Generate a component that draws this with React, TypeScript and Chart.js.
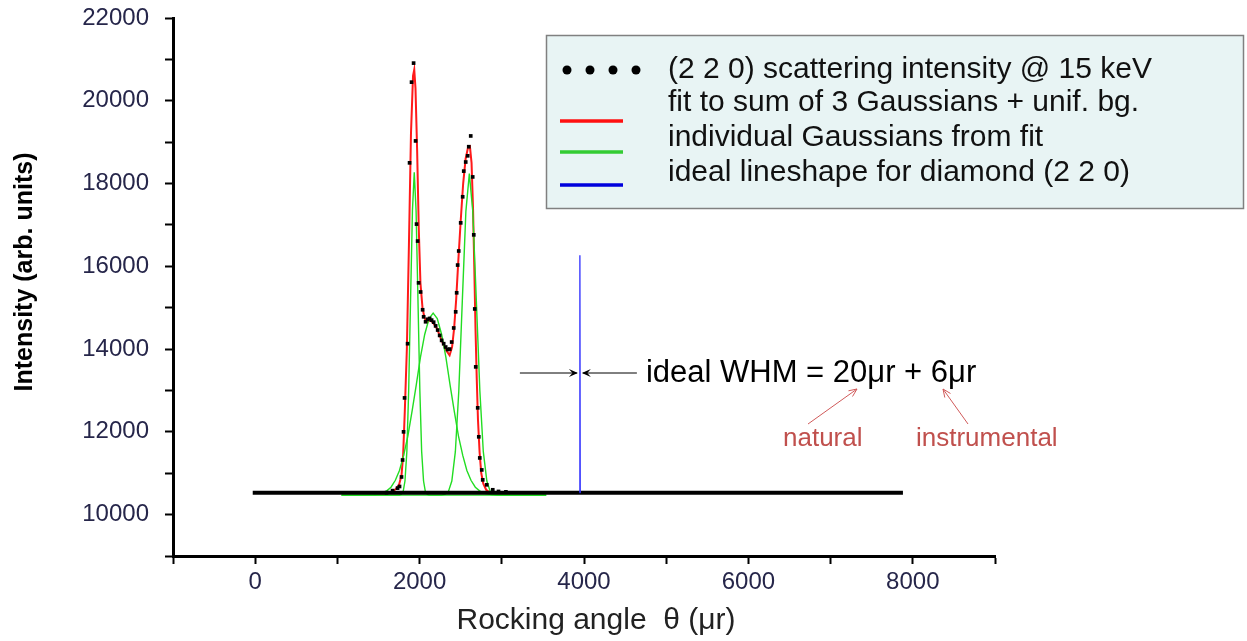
import React, { useEffect, useRef } from "react";
import { Chart, registerables } from "chart.js";

Chart.register(...registerables);

const FONT = "'Liberation Sans', Arial, Helvetica, sans-serif";

// measured scattering intensity (black points)
const dataX = [1598, 1671, 1732, 1756, 1780, 1793, 1805, 1817, 1854, 1878, 1902, 1927, 1951, 1963, 1976, 1988, 2012, 2037, 2049, 2073, 2098, 2122, 2146, 2171, 2195, 2220, 2244, 2268, 2293, 2317, 2341, 2366, 2390, 2415, 2439, 2451, 2463, 2476, 2500, 2524, 2537, 2561, 2585, 2598, 2622, 2646, 2659, 2671, 2683, 2707, 2720, 2732, 2756, 2768, 2817, 2890, 2960, 3050];
const dataY = [10530, 10580, 10640, 10680, 10910, 11320, 12000, 12820, 14130, 18500, 20450, 20910, 19030, 17020, 16610, 15600, 15380, 14950, 14780, 14660, 14720, 14740, 14700, 14650, 14560, 14460, 14330, 14210, 14130, 14050, 13990, 14000, 14170, 14510, 14900, 15360, 16030, 16370, 17050, 17680, 18300, 18520, 18670, 18890, 19150, 18160, 16760, 14970, 13570, 12580, 11880, 11370, 11080, 10840, 10720, 10600, 10560, 10550];

// dense flat background of the scan (thick black band)
const bgX = [-30, 7880];
const bgY = [10530, 10530];

// fit: sum of 3 Gaussians + uniform background (red)
const fitX = [1450, 1550, 1650, 1700, 1750, 1780, 1800, 1820, 1845, 1870, 1895, 1920, 1935, 1950, 1970, 1990, 2010, 2035, 2060, 2090, 2130, 2170, 2210, 2250, 2290, 2330, 2365, 2395, 2420, 2445, 2470, 2500, 2530, 2560, 2590, 2612, 2632, 2650, 2665, 2680, 2695, 2710, 2730, 2750, 2775, 2810, 2860, 2950, 3100];
const fitY = [10490, 10500, 10540, 10600, 10720, 10950, 11450, 12500, 14000, 16500, 19200, 20600, 20750, 20300, 18800, 16900, 15600, 15000, 14750, 14650, 14700, 14620, 14500, 14300, 14100, 13950, 13850, 14050, 14500, 15200, 16100, 17100, 18000, 18600, 18880, 18900, 18500, 17400, 16000, 14500, 13300, 12300, 11500, 11000, 10750, 10600, 10520, 10490, 10480];

// individual Gaussians (green)
const g1X = [1050, 1755, 1777, 1800, 1822, 1845, 1867, 1890, 1913, 1935, 1957, 1980, 2003, 2025, 2048, 2070, 2093, 2115, 3540];
const g1Y = [10470, 10472, 10487, 10557, 10812, 11525, 13000, 15200, 17354, 18270, 17354, 15200, 13000, 11525, 10812, 10557, 10487, 10472, 10470];
const g2X = [1050, 1345, 1447, 1500, 1550, 1600, 1652, 1705, 1755, 1806, 1857, 1910, 1960, 2010, 2062, 2115, 2165, 2215, 2268, 2320, 2370, 2420, 2473, 2525, 2575, 2625, 2678, 2730, 2780, 2883, 2985, 3540];
const g2Y = [10470, 10471, 10480, 10495, 10519, 10575, 10663, 10830, 11065, 11430, 11899, 12520, 13139, 13800, 14353, 14740, 14870, 14740, 14353, 13800, 13139, 12520, 11899, 11430, 11065, 10830, 10663, 10575, 10519, 10480, 10471, 10470];
const g3X = [1050, 2265, 2307, 2350, 2392, 2435, 2477, 2520, 2563, 2605, 2647, 2690, 2733, 2775, 2818, 2860, 2903, 2945, 3540];
const g3Y = [10470, 10471, 10487, 10556, 10811, 11521, 12993, 15183, 17327, 18240, 17327, 15183, 12993, 11521, 10811, 10556, 10487, 10471, 10470];

// ideal lineshape for diamond (blue)
const idealX = [3946, 3950, 3954];
const idealY = [10530, 16270, 10530];

// axes
const xMin = -1000, xMax = 9000, xStep = 1000;
const yMin = 9000, yMax = 22000, yStep = 1000;

const legendLabels = [
  "(2 2 0) scattering intensity @ 15 keV",
  "fit to sum of 3 Gaussians + unif. bg.",
  "individual Gaussians from fit",
  "ideal lineshape for diamond (2 2 0)",
];
const yTitle = "Intensity (arb. units)";
const xTitle = "Rocking angle  \u03b8 (\u03bcr)";
const whmText = "ideal WHM = 20\u03bcr + 6\u03bcr";
const naturalText = "natural";
const instrText = "instrumental";

const pts = (xs: number[], ys: number[]) => xs.map((x, i) => ({ x, y: ys[i] }));

function arrowHead(ctx: CanvasRenderingContext2D, x1: number, y1: number, x2: number, y2: number, len: number, wid: number, filled: boolean) {
  const a = Math.atan2(y2 - y1, x2 - x1);
  const bx = x2 - len * Math.cos(a), by = y2 - len * Math.sin(a);
  const px = -Math.sin(a) * wid, py = Math.cos(a) * wid;
  ctx.beginPath();
  if (filled) {
    ctx.moveTo(x2, y2);
    ctx.lineTo(bx + px, by + py);
    ctx.lineTo(bx + 0.4 * len * Math.cos(a), by + 0.4 * len * Math.sin(a));
    ctx.lineTo(bx - px, by - py);
    ctx.closePath();
    ctx.fill();
  } else {
    ctx.moveTo(bx + px, by + py);
    ctx.lineTo(x2, y2);
    ctx.lineTo(bx - px, by - py);
    ctx.stroke();
  }
}

const overlay = {
  id: "overlay",
  afterDraw(chart: any) {
    const ctx: CanvasRenderingContext2D = chart.ctx;
    const xs = chart.scales.x;
    ctx.save();

    // y title
    ctx.save();
    ctx.translate(25, 272);
    ctx.rotate(-Math.PI / 2);
    ctx.fillStyle = "#000";
    ctx.font = `bold 25px ${FONT}`;
    ctx.textAlign = "center";
    ctx.textBaseline = "middle";
    ctx.fillText(yTitle, 0, 0);
    ctx.restore();

    // x title
    ctx.fillStyle = "#222";
    ctx.font = `30px ${FONT}`;
    ctx.textAlign = "center";
    ctx.textBaseline = "middle";
    ctx.fillText(xTitle, 596, 621);

    // legend box
    ctx.fillStyle = "#e8f4f4";
    ctx.fillRect(546, 35, 697, 173);
    ctx.strokeStyle = "#808080";
    ctx.lineWidth = 1.5;
    ctx.strokeRect(546.5, 35.5, 697, 173);

    ctx.fillStyle = "#000";
    [567, 590, 613, 636].forEach((cx) => {
      ctx.beginPath();
      ctx.arc(cx, 70, 4.5, 0, Math.PI * 2);
      ctx.fill();
    });
    const lineSyms = [
      { y: 121, c: "#ff1010" },
      { y: 152, c: "#33cc33" },
      { y: 185, c: "#0000dd" },
    ];
    ctx.lineWidth = 3.5;
    lineSyms.forEach((s) => {
      ctx.strokeStyle = s.c;
      ctx.beginPath();
      ctx.moveTo(560, s.y);
      ctx.lineTo(623, s.y);
      ctx.stroke();
    });
    ctx.fillStyle = "#111";
    ctx.font = `30px ${FONT}`;
    ctx.textAlign = "left";
    ctx.textBaseline = "middle";
    const ly = [70, 103, 138, 173];
    legendLabels.forEach((t, i) => ctx.fillText(t, 668, ly[i]));

    // WHM annotation
    const bx = xs.getPixelForValue(idealX[1]);
    const ay = 373;
    ctx.strokeStyle = "#000";
    ctx.fillStyle = "#000";
    ctx.lineWidth = 1;
    ctx.beginPath();
    ctx.moveTo(bx - 60, ay);
    ctx.lineTo(bx - 3, ay);
    ctx.stroke();
    arrowHead(ctx, bx - 60, ay, bx - 2, ay, 9, 4, true);
    ctx.beginPath();
    ctx.moveTo(bx + 57, ay);
    ctx.lineTo(bx + 3, ay);
    ctx.stroke();
    arrowHead(ctx, bx + 57, ay, bx + 2, ay, 9, 4, true);

    ctx.font = `31px ${FONT}`;
    ctx.textAlign = "left";
    ctx.fillText(whmText, bx + 66, ay);

    ctx.fillStyle = "#c0504d";
    ctx.strokeStyle = "#d05a5a";
    ctx.font = `26px ${FONT}`;
    ctx.fillText(naturalText, 783, 439);
    ctx.fillText(instrText, 916, 439);
    ctx.lineWidth = 1;
    ctx.beginPath();
    ctx.moveTo(808, 424);
    ctx.lineTo(857, 389);
    ctx.stroke();
    arrowHead(ctx, 808, 424, 857, 389, 8, 3.5, false);
    ctx.beginPath();
    ctx.moveTo(968, 424);
    ctx.lineTo(943, 389);
    ctx.stroke();
    arrowHead(ctx, 968, 424, 943, 389, 8, 3.5, false);

    ctx.restore();
  },
};

export default function App() {
  const ref = useRef<HTMLCanvasElement | null>(null);
  useEffect(() => {
    if (!ref.current) return;
    const line = (d: any[], color: string, w: number) => ({
      data: d,
      showLine: true,
      borderColor: color,
      backgroundColor: color,
      borderWidth: w,
      pointRadius: 0,
      tension: 0,
    });
    const chart = new Chart(ref.current, {
      type: "scatter",
      data: {
        datasets: [
          {
            data: pts(dataX, dataY),
            showLine: false,
            pointStyle: "rect",
            pointRadius: 2.6,
            backgroundColor: "#000",
            borderColor: "#000",
            borderWidth: 0,
          } as any,
          line(pts(idealX, idealY), "#3030ff", 1.3),
          line(pts(bgX, bgY), "#000", 4),
          line(pts(g1X, g1Y), "#22dd22", 1.4),
          line(pts(g2X, g2Y), "#22dd22", 1.4),
          line(pts(g3X, g3Y), "#22dd22", 1.4),
          line(pts(fitX, fitY), "#ff1a1a", 2),
        ],
      },
      options: {
        animation: false,
        responsive: true,
        maintainAspectRatio: false,
        layout: { autoPadding: false, padding: { left: 0, top: 18, right: 252, bottom: 0 } } as any,
        plugins: { legend: { display: false }, tooltip: { enabled: false }, title: { display: false } },
        scales: {
          x: {
            type: "linear",
            min: xMin,
            max: xMax,
            ticks: {
              stepSize: xStep,
              autoSkip: false,
              maxRotation: 0,
              padding: 4,
              color: "#26264a",
              font: { size: 24, family: FONT },
              callback: (v: any) => (v % 2000 === 0 && v >= 0 ? String(v) : ""),
            },
            grid: { drawOnChartArea: false, drawTicks: true, tickLength: 8, tickWidth: 2, tickColor: "#000" },
            border: { display: true, color: "#000", width: 3 },
            afterFit: (s: any) => {
              s.height = 85;
              s.paddingLeft = 0;
              s.paddingRight = 0;
            },
          },
          y: {
            type: "linear",
            min: yMin,
            max: yMax,
            ticks: {
              stepSize: yStep,
              autoSkip: false,
              padding: 16,
              color: "#26264a",
              font: { size: 24, family: FONT },
              callback: (v: any) => (v % 2000 === 0 && v >= 10000 ? String(v) : ""),
            },
            grid: { drawOnChartArea: false, drawTicks: true, tickLength: 8, tickWidth: 2, tickColor: "#000" },
            border: { display: true, color: "#000", width: 3 },
            afterFit: (s: any) => {
              s.width = 173;
              s.paddingTop = 0;
              s.paddingBottom = 0;
            },
          },
        },
      },
      plugins: [overlay],
    });
    return () => chart.destroy();
  }, []);
  return (
    <div style={{ position: "fixed", left: 0, top: 0, width: 1247, height: 641, background: "#fff" }}>
      <canvas ref={ref} />
    </div>
  );
}
